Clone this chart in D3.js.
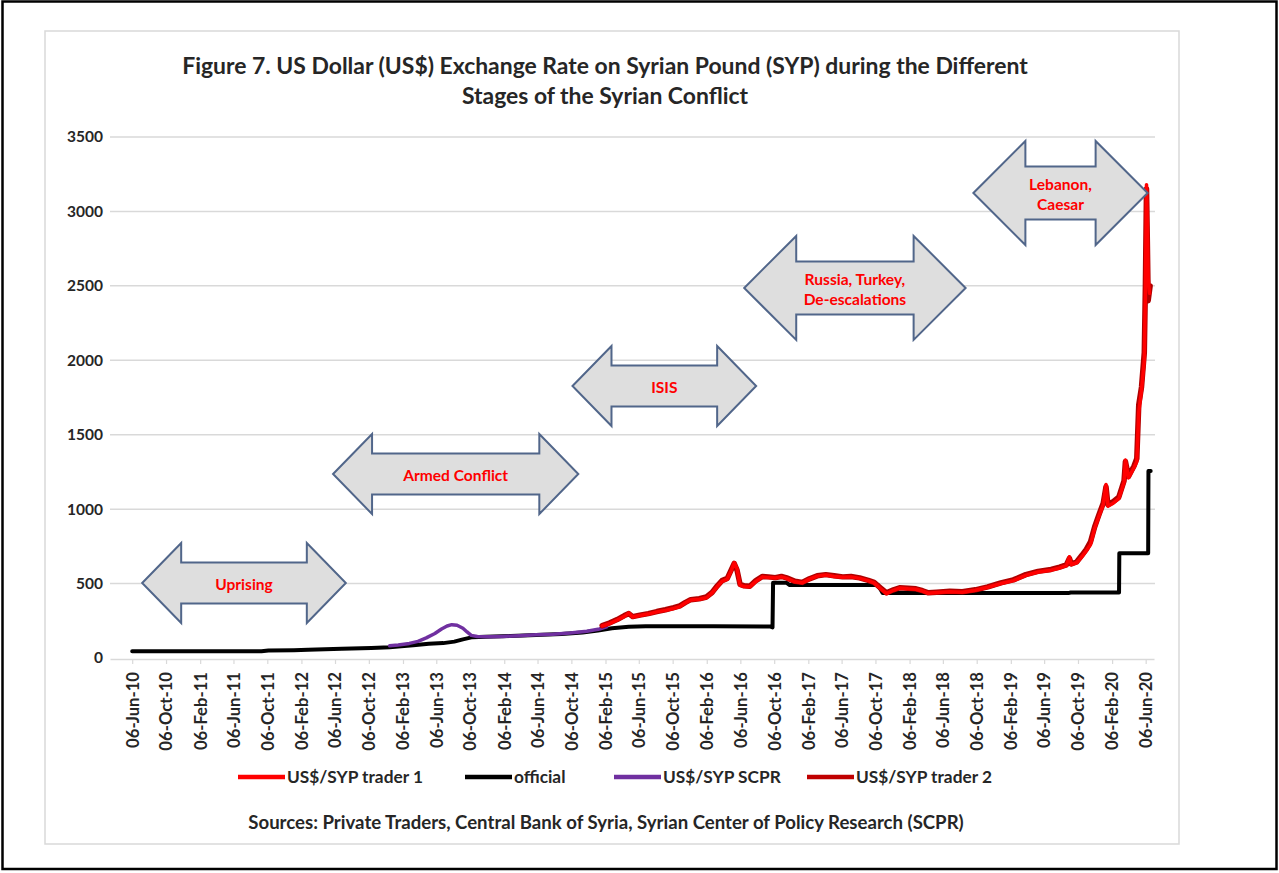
<!DOCTYPE html>
<html><head><meta charset="utf-8">
<script src="https://cdn.jsdelivr.net/npm/d3@7"></script>
<style>body{margin:0;background:#fff;} svg{display:block;}</style>
</head><body>
<svg id="c" width="1279" height="873"></svg>
<script>
// ---------------- DATA ----------------
const titleLines = ["Figure 7. US Dollar (US$) Exchange Rate on Syrian Pound (SYP) during the Different", "Stages of the Syrian Conflict"];
const sourceText = "Sources: Private Traders, Central Bank of Syria, Syrian Center of Policy Research (SCPR)";
const yTicks = [0, 500, 1000, 1500, 2000, 2500, 3000, 3500];
const xTickLabels = ["06-Jun-10","06-Oct-10","06-Feb-11","06-Jun-11","06-Oct-11","06-Feb-12","06-Jun-12","06-Oct-12","06-Feb-13","06-Jun-13","06-Oct-13","06-Feb-14","06-Jun-14","06-Oct-14","06-Feb-15","06-Jun-15","06-Oct-15","06-Feb-16","06-Jun-16","06-Oct-16","06-Feb-17","06-Jun-17","06-Oct-17","06-Feb-18","06-Jun-18","06-Oct-18","06-Feb-19","06-Jun-19","06-Oct-19","06-Feb-20","06-Jun-20"];
const seriesNames = ["US$/SYP trader 1", "official", "US$/SYP SCPR", "US$/SYP trader 2"];

const officialData = [["2010-06-06",45],["2011-09-15",45],["2011-10-10",50],["2012-01-10",52],["2012-03-01",55],["2012-07-01",62],["2012-10-15",68],["2012-12-20",72],["2013-01-20",78],["2013-03-15",85],["2013-05-10",95],["2013-07-01",100],["2013-08-10",110],["2013-09-10",125],["2013-10-15",140],["2013-12-01",143],["2014-03-01",148],["2014-06-01",155],["2014-09-01",162],["2014-11-15",172],["2015-01-10",185],["2015-03-01",200],["2015-05-01",210],["2015-07-01",213],["2016-03-01",214],["2016-09-20",212],["2016-09-30",206],["2016-10-02",505],["2016-11-20",505],["2016-12-01",490],["2017-10-15",490],["2017-11-01",436],["2019-09-01",436],["2019-09-10",440],["2020-03-02",440],["2020-03-03",704],["2020-06-15",704],["2020-06-16",1256],["2020-06-24",1256]];

const scprData = [["2012-12-20",82],["2013-01-20",88],["2013-03-01",98],["2013-04-01",112],["2013-05-01",135],["2013-06-01",165],["2013-06-25",195],["2013-07-15",215],["2013-08-01",224],["2013-08-20",220],["2013-09-10",200],["2013-09-25",175],["2013-10-10",152],["2013-11-01",145],["2013-12-15",142],["2014-02-01",145],["2014-04-01",150],["2014-06-01",156],["2014-08-01",160],["2014-10-01",168],["2014-12-01",180],["2015-01-15",195],["2015-02-10",210]];

const trader1Data = [["2015-01-25",215],["2015-02-20",230],["2015-03-20",255],["2015-04-15",280],["2015-05-01",302],["2015-05-15",275],["2015-06-10",285],["2015-07-10",295],["2015-08-10",310],["2015-09-10",320],["2015-10-10",333],["2015-11-01",345],["2015-11-20",370],["2015-12-10",390],["2016-01-10",395],["2016-02-05",405],["2016-02-25",437],["2016-03-15",480],["2016-04-01",515],["2016-04-20",530],["2016-05-05",590],["2016-05-15",640],["2016-05-25",600],["2016-06-05",490],["2016-06-20",480],["2016-07-10",478],["2016-08-01",515],["2016-08-25",545],["2016-09-15",540],["2016-10-10",537],["2016-11-01",545],["2016-11-20",535],["2016-12-20",512],["2017-01-15",505],["2017-02-10",530],["2017-03-10",550],["2017-04-10",558],["2017-05-10",548],["2017-06-10",542],["2017-07-10",545],["2017-08-10",535],["2017-09-10",520],["2017-10-01",505],["2017-10-25",465],["2017-11-15",432],["2017-12-10",455],["2018-01-01",470],["2018-02-01",465],["2018-03-01",462],["2018-03-25",450],["2018-04-15",435],["2018-05-15",440],["2018-07-01",445],["2018-08-15",442],["2018-10-01",455],["2018-11-15",475],["2019-01-01",500],["2019-02-15",520],["2019-04-01",555],["2019-05-15",578],["2019-07-01",590],["2019-08-01",605],["2019-08-25",620],["2019-09-05",680],["2019-09-12",628],["2019-10-01",640],["2019-10-20",680],["2019-11-05",720],["2019-11-20",760],["2019-12-05",870],["2019-12-20",950],["2020-01-05",1030],["2020-01-15",1165],["2020-01-22",1020],["2020-02-10",1040],["2020-03-01",1070],["2020-03-20",1180],["2020-03-25",1330],["2020-04-05",1210],["2020-04-25",1280],["2020-05-05",1320],["2020-05-12",1650],["2020-05-22",1800],["2020-06-01",2000],["2020-06-05",2450],["2020-06-09",3180],["2020-06-12",2900],["2020-06-15",2550],["2020-06-20",2450]];

const trader2Data = [["2015-01-25",218],["2015-02-20",235],["2015-03-20",258],["2015-04-15",285],["2015-05-01",298],["2015-05-15",278],["2015-06-10",288],["2015-07-10",298],["2015-08-10",312],["2015-09-10",324],["2015-10-10",338],["2015-11-01",350],["2015-11-20",372],["2015-12-10",392],["2016-01-10",398],["2016-02-05",410],["2016-02-25",440],["2016-03-15",485],["2016-04-01",520],["2016-04-20",535],["2016-05-05",595],["2016-05-15",635],["2016-05-25",590],["2016-06-05",495],["2016-06-20",485],["2016-07-10",482],["2016-08-01",520],["2016-08-25",548],["2016-09-15",545],["2016-10-10",540],["2016-11-01",548],["2016-11-20",538],["2016-12-20",515],["2017-01-15",508],["2017-02-10",532],["2017-03-10",552],["2017-04-10",560],["2017-05-10",552],["2017-06-10",545],["2017-07-10",548],["2017-08-10",538],["2017-09-10",522],["2017-10-01",508],["2017-10-25",470],["2017-11-15",438],["2017-12-10",458],["2018-01-01",472],["2018-02-01",468],["2018-03-01",465],["2018-03-25",452],["2018-04-15",438],["2018-05-15",442],["2018-07-01",448],["2018-08-15",445],["2018-10-01",458],["2018-11-15",478],["2019-01-01",505],["2019-02-15",525],["2019-04-01",560],["2019-05-15",582],["2019-07-01",595],["2019-08-01",610],["2019-08-25",625],["2019-09-05",670],["2019-09-12",632],["2019-10-01",645],["2019-10-20",690],["2019-11-05",730],["2019-11-20",780],["2019-12-05",880],["2019-12-20",960],["2020-01-05",1040],["2020-01-15",1150],["2020-01-22",1030],["2020-02-10",1050],["2020-03-01",1080],["2020-03-20",1190],["2020-03-25",1320],["2020-04-05",1220],["2020-04-25",1290],["2020-05-05",1340],["2020-05-12",1700],["2020-05-22",1820],["2020-06-01",2050],["2020-06-05",2500],["2020-06-09",3150],["2020-06-12",2800],["2020-06-15",2400],["2020-06-22",2500]];

// conflict stages (start date, end date, centre value, label lines, size class)
const stageLabels = [["Uprising"], ["Armed Conflict"], ["ISIS"], ["Russia, Turkey,", "De-escalations"], ["Lebanon,", "Caesar"]];
const stageStart = ["2010-07-12", "2012-05-30", "2014-10-10", "2016-06-20", "2018-09-24"];
const stageEnd   = ["2012-07-15", "2014-10-31", "2016-08-02", "2018-08-27", "2020-06-13"];
const stageValue = [504, 1236, 1827, 2486, 3124];
const stageSize  = ["s", "s", "s", "l", "l"];

// ---------------- DRAW ----------------
const parse = d3.timeParse("%Y-%m-%d");
const parseTick = d3.timeParse("%d-%b-%y");
const fmtTick = d3.timeFormat("%d-%b-%y");
const FONT = "Lato, 'Open Sans', sans-serif";
const svg = d3.select("#c");

function fitSize(text, target) {
  const t = svg.append("text").attr("font-family", FONT).attr("font-weight", 700)
    .attr("font-size", 100).text(text);
  const w = t.node().getComputedTextLength();
  t.remove();
  return 100 * target / w;
}

const toPts = arr => arr.map(d => ({date: parse(d[0]), value: d[1]}));

// frames
svg.append("rect").attr("x", 2.5).attr("y", 1.5).attr("width", 1274).attr("height", 867.5)
  .attr("fill", "#fff").attr("stroke", "#000").attr("stroke-width", 2.5);
svg.append("rect").attr("x", 45).attr("y", 31).attr("width", 1134).attr("height", 813)
  .attr("fill", "#fff").attr("stroke", "#d9d9d9").attr("stroke-width", 1.5);

const x = d3.scaleTime().domain([parse("2010-03-18"), parse("2020-07-06")]).range([110, 1154]);
const y = d3.scaleLinear().domain([0, 3500]).range([658, 137]);

// title
const titleSize = fitSize(titleLines[0], 846);
svg.selectAll("text.title").data(titleLines).join("text").attr("class", "title")
  .attr("x", 605).attr("y", (d, i) => 74 + i * 30)
  .attr("text-anchor", "middle").attr("font-family", FONT).attr("font-weight", 700)
  .attr("font-size", titleSize).attr("fill", "#262626").text(d => d);

// gridlines
svg.append("g").selectAll("line").data(yTicks.filter(v => v > 0)).join("line")
  .attr("x1", 110).attr("x2", 1155).attr("y1", d => y(d)).attr("y2", d => y(d))
  .attr("stroke", "#d9d9d9").attr("stroke-width", 1.5);

// y axis
const ySize = fitSize("3500", 36);
const yAxis = svg.append("g").attr("transform", "translate(110,0)")
  .call(d3.axisLeft(y).tickValues(yTicks).tickFormat(d3.format("d")).tickSize(0).tickPadding(7));
yAxis.select(".domain").remove();
yAxis.selectAll("text").attr("font-family", FONT).attr("font-weight", 700)
  .attr("font-size", ySize).attr("fill", "#262626");

// x axis
const xTickDates = xTickLabels.map(parseTick);
const xSize = fitSize("06-Jun-10", 76);
const xAxis = svg.append("g").attr("transform", "translate(0,659)")
  .call(d3.axisBottom(x).tickValues(xTickDates).tickFormat(fmtTick).tickSize(5).tickSizeOuter(0));
xAxis.select(".domain").attr("stroke", "#d9d9d9").attr("stroke-width", 1.5);
xAxis.selectAll(".tick line").attr("stroke", "#d9d9d9").attr("stroke-width", 1.2);
xAxis.selectAll("text").attr("font-family", FONT).attr("font-weight", 700)
  .attr("font-size", xSize).attr("fill", "#262626")
  .attr("transform", "rotate(-90)").attr("text-anchor", "end")
  .attr("x", -13).attr("y", 0).attr("dy", "0.35em");

// series
const line = d3.line().x(d => x(d.date)).y(d => y(d.value));
const g = svg.append("g").attr("fill", "none").attr("stroke-linejoin", "round").attr("stroke-linecap", "round");
g.append("path").datum(toPts(officialData)).attr("d", line).attr("stroke", "#000").attr("stroke-width", 4);
g.append("path").datum(toPts(scprData)).attr("d", line).attr("stroke", "#7030a0").attr("stroke-width", 3.5);
g.append("path").datum(toPts(trader2Data)).attr("d", line).attr("stroke", "#b00000").attr("stroke-width", 5.5);
g.append("path").datum(toPts(trader1Data)).attr("d", line).attr("stroke", "#ff0000").attr("stroke-width", 3.5);

// stage arrows
const sizes = {s: {half: 40, shaft: 20.5, head: 39}, l: {half: 52, shaft: 26.5, head: 52}};
const labSize = fitSize("Armed Conflict", 105);
stageLabels.forEach((lab, i) => {
  const x1 = x(parse(stageStart[i])), x2 = x(parse(stageEnd[i])), cy = y(stageValue[i]);
  const s = sizes[stageSize[i]];
  const pts = [[x1, cy], [x1 + s.head, cy - s.half], [x1 + s.head, cy - s.shaft], [x2 - s.head, cy - s.shaft],
    [x2 - s.head, cy - s.half], [x2, cy], [x2 - s.head, cy + s.half], [x2 - s.head, cy + s.shaft],
    [x1 + s.head, cy + s.shaft], [x1 + s.head, cy + s.half]];
  svg.append("path").attr("d", "M" + pts.map(p => p.join(",")).join("L") + "Z")
    .attr("fill", "#dedede").attr("stroke", "#51668a").attr("stroke-width", 2).attr("stroke-linejoin", "miter");
  const cx = (x1 + x2) / 2;
  const n = lab.length;
  svg.append("g").selectAll("text").data(lab).join("text")
    .attr("x", cx).attr("y", (d, k) => cy + 2 + (k - (n - 1) / 2) * 20)
    .attr("dy", "0.35em").attr("text-anchor", "middle")
    .attr("font-family", FONT).attr("font-weight", 700).attr("font-size", labSize)
    .attr("fill", "#ff0000").text(d => d);
});

// legend
const legColors = ["#ff0000", "#000000", "#7030a0", "#c00000"];
const legTextX = [287, 514, 663, 856];
const legSize = fitSize(seriesNames[0], 136);
seriesNames.forEach((name, i) => {
  svg.append("line").attr("x1", legTextX[i] - 49).attr("x2", legTextX[i] - 2)
    .attr("y1", 777).attr("y2", 777).attr("stroke", legColors[i]).attr("stroke-width", 4.5);
  svg.append("text").attr("x", legTextX[i]).attr("y", 777).attr("dy", "0.35em")
    .attr("font-family", FONT).attr("font-weight", 700).attr("font-size", legSize)
    .attr("fill", "#262626").text(name);
});

// sources
svg.append("text").attr("x", 606).attr("y", 822).attr("dy", "0.35em").attr("text-anchor", "middle")
  .attr("font-family", FONT).attr("font-weight", 700).attr("font-size", fitSize(sourceText, 716))
  .attr("fill", "#262626").text(sourceText);
</script>
</body></html>
